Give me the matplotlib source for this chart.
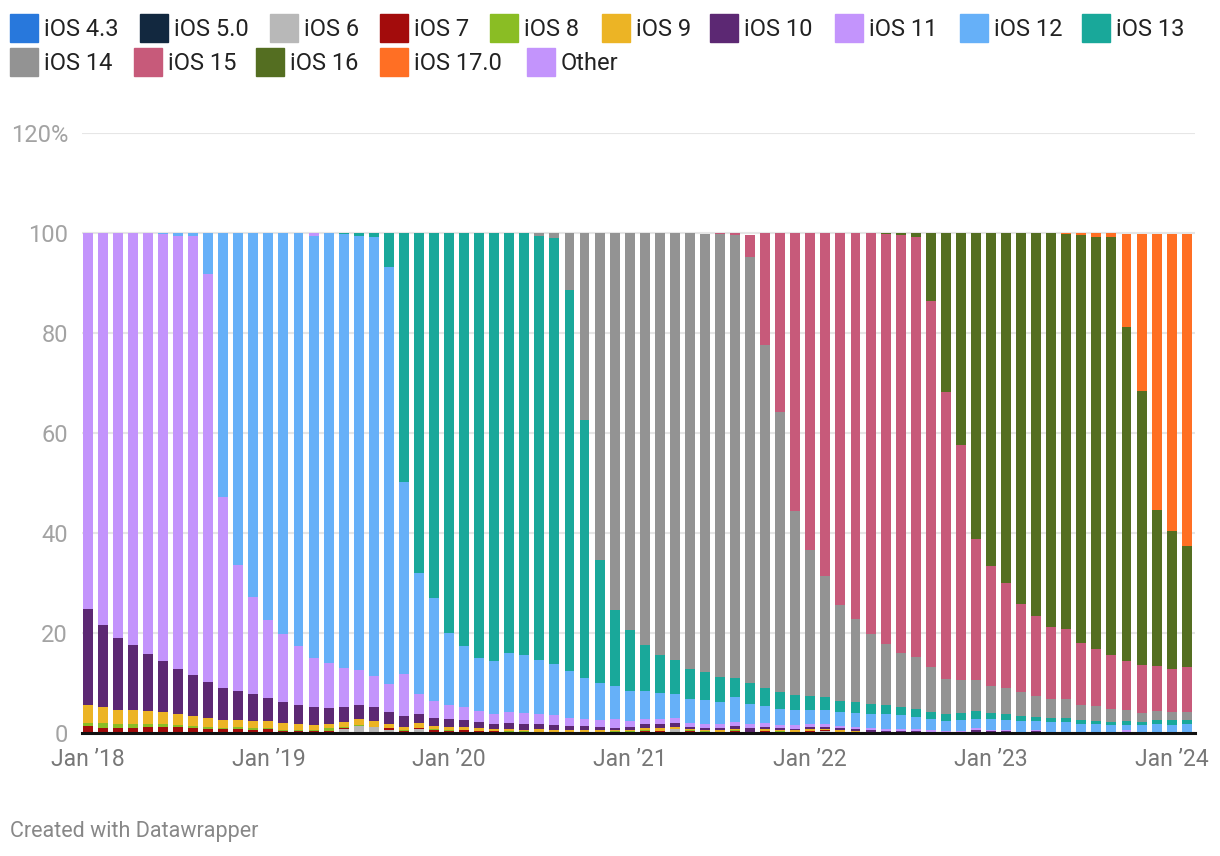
import numpy as np
import matplotlib.pyplot as plt
from matplotlib.patches import Rectangle

plt.rcParams['font.family'] = ['Roboto', 'DejaVu Sans']

# monthly, Jan 2018 .. Feb 2024
months = 74
tick_pos = [0, 12, 24, 36, 48, 60, 72]
tick_labels = ["Jan ’18", "Jan ’19", "Jan ’20", "Jan ’21", "Jan ’22", "Jan ’23", "Jan ’24"]

ios43 = [0] * 74
ios50 = [0] * 74
ios6 = ([0] * 14 + [0.1, 0, 0.2, 0.8, 1.4, 1.2,
        0.6, 0.2, 0.8, 0.2, 0.2, 0.3, 0.2, 0.1, 0.1, 0.1, 0.1, 0.1, 0.1, 0.1, 0.1, 0.2, 0.2, 0.2, 0.3, 0.8,
        0.3, 0.2, 0.1, 0.2, 0.1, 0.1, 0.1, 0.1, 0.3, 0.5, 0.1, 0.1] + [0] * 22)
ios7 = ([1.4, 1.1, 1.1, 1.1, 1.2, 1.2, 1.2, 1.0, 0.9, 0.9, 0.8, 0.6, 0.8, 0.5, 0.4, 0.5, 0.3, 0.2, 0.1, 0.1,
         0.4, 0.2, 0.2, 0.4, 0.2, 0.3, 0.2, 0.3, 0.2, 0.1, 0.1, 0.1, 0.1, 0.1, 0.1, 0.1, 0.1, 0.3, 0.1, 0.1,
         0.2, 0.1, 0.1, 0.3, 0.1, 0.4, 0.2, 0.1, 0.1, 0.1, 0.1] + [0] * 23)
ios8 = ([0.6, 0.9, 0.7, 0.7, 0.6, 0.6, 0.5, 0.4, 0.3, 0.1, 0.4, 0.4, 0.2, 0.1, 0.1, 0.1, 0.5, 0.2, 0.1, 0,
         0.1, 0.2, 0.1, 0.2, 0.3, 0.1, 0.1, 0.1, 0.1, 0.2, 0.1, 0.1, 0.1, 0.1, 0.1, 0.2, 0.2, 0.1, 0.1, 0,
         0.1, 0.1, 0.1, 0.1, 0, 0, 0.1, 0.1, 0.1, 0.1, 0.1, 0.1] + [0] * 22)
ios9 = ([3.6, 3.2, 2.8, 2.8, 2.6, 2.4, 2.1, 2.0, 1.8, 1.6, 1.4, 1.4, 1.4, 1.4, 1.2, 1.0, 0.8, 1.0, 1.2, 1.1,
         0.7, 0.6, 0.9, 0.6, 0.5, 0.5, 0.5, 0.3, 0.4, 0.2, 0.5, 0.3, 0.3, 0.3, 0.3, 0.1, 0.2, 0.4, 0.5, 0.3,
         0.2, 0.2, 0.3, 0.2, 0.1, 0.3, 0.2, 0.3, 0.3, 0.2, 0.4, 0.2, 0.1, 0.1, 0.1, 0.1, 0, 0, 0, 0,
         0, 0, 0, 0.3, 0, 0, 0, 0, 0, 0, 0, 0, 0, 0])
ios10 = [19.2, 16.4, 14.4, 13.0, 11.4, 10.2, 9.0, 8.2, 7.2, 6.4, 5.8, 5.4, 4.6, 4.2, 3.8, 3.6, 3.2, 3.0, 2.8, 2.8,
         2.4, 2.2, 1.8, 1.6, 1.6, 1.4, 1.2, 1.0, 1.2, 1.2, 1.0, 1.0, 0.8, 0.8, 0.6, 0.4, 0.5, 0.8, 0.8, 0.8,
         0.4, 0.4, 0.4, 0.6, 0.7, 0.4, 0.4, 0.2, 0.4, 0.3, 0.3, 0.4, 0.5, 0.3, 0.3, 0.3, 0.3, 0.2, 0.2, 0.6,
         0.5, 0.5, 0.1, 0.2, 0.1, 0.1, 0.1, 0.1, 0.1, 0.1, 0.1, 0.1, 0.1, 0.1]
ios11 = [75.2, 78.4, 81.0, 82.4, 84.2, 85.4, 86.7, 87.9, 81.6, 38.2, 25.2, 19.4, 15.6, 13.6, 11.8, 9.8, 9.0, 7.8, 7.0, 6.2,
         5.6, 8.4, 4.0, 3.4, 2.8, 2.6, 2.2, 2.0, 2.2, 2.2, 2.0, 2.0, 1.6, 1.4, 1.4, 1.8, 1.2, 1.0, 1.0, 1.0,
         0.8, 0.8, 0.8, 0.8, 0.8, 0.8, 0.6, 0.8, 0.6, 0.6, 0.4, 0.4, 0.4, 0.4, 0.4, 0.4, 0.3, 0.2, 0.2, 0.4,
         0.1, 0.1, 0.2, 0.1, 0.2, 0.2, 0.2, 0.2, 0.2, 0.5, 0.2, 0.2, 0.2, 0.2]
ios12 = [0, 0, 0, 0, 0, 0.2, 0.5, 0.5, 8.2, 52.8, 66.4, 72.8, 77.4, 80.2, 82.6, 84.5, 86.0, 86.8, 86.8, 87.8,
         83.5, 38.4, 24.2, 20.6, 14.4, 12.2, 10.6, 10.6, 11.8, 11.6, 10.8, 10.2, 9.4, 8.2, 7.4, 6.6, 6.0, 5.6, 5.2, 4.8,
         4.8, 4.8, 4.4, 5.1, 4.0, 3.4, 3.2, 3.0, 2.8, 2.8, 2.8, 2.8, 2.8, 3.0, 2.8, 2.4, 2.2, 2.0, 2.2, 1.8,
         2.2, 2.0, 2.1, 1.8, 1.9, 1.9, 1.5, 1.5, 1.3, 1.0, 1.3, 1.5, 1.3, 1.5]
ios13 = ([0] * 17 + [0.2, 0.6, 0.8,
         6.7, 49.8, 68.0, 73.0, 80.0, 82.6, 85.0, 85.6, 84.0, 84.4, 84.8, 85.2, 76.2, 51.6, 24.6, 15.2, 12.2, 9.2, 7.6, 6.8,
         6.0, 5.6, 5.0, 3.7, 4.2, 3.6, 3.4, 3.0, 2.8, 2.6, 2.2, 2.2, 2.0, 1.8, 1.6, 1.6, 1.4, 1.4, 1.4, 1.6,
         1.2, 1.2, 1.0, 0.8, 0.8, 0.8, 0.8, 0.6, 0.6, 0.8, 0.6, 0.8, 1.0, 0.8])
ios14 = ([0] * 30 + [0.6, 1.0, 11.4, 37.4, 65.4, 75.4, 79.4, 82.4, 84.4, 85.4,
         87.2, 87.6, 88.6, 88.6, 85.2, 68.6, 56.0, 36.8, 29.2, 24.2, 19.2, 16.6, 14.0, 12.2, 10.8, 10.4, 9.0, 7.0, 6.6, 6.2,
         5.4, 5.2, 4.8, 4.2, 3.8, 3.8, 3.0, 3.0, 2.6, 2.2, 1.8, 1.8, 1.6, 1.6])
ios15 = ([0] * 42 + [0.2, 0.4, 4.4, 22.4, 35.8, 55.6, 63.4, 68.6, 74.4, 77.2, 80.2, 82.0, 83.6, 84.0, 73.2, 57.4, 47.0, 28.2,
         24.0, 21.0, 17.6, 16.0, 14.4, 14.0, 12.4, 11.4, 10.8, 9.8, 9.6, 9.0, 8.6, 9.0])
ios16 = ([0] * 53 + [0.2, 0.4, 0.8, 13.6, 31.8, 42.4, 61.2,
         66.6, 70.0, 74.2, 76.6, 78.8, 79.0, 81.6, 82.4, 83.6, 66.8, 54.8, 31.2, 27.6, 24.2])
ios17 = [0] * 65 + [0.2, 0.4, 0.8, 0.8, 18.6, 31.4, 55.2, 59.4, 62.4]
other = [0] * 15 + [0.5] + [0] * 58

series = [
    ("iOS 4.3", ios43, "#2878dc"),
    ("iOS 5.0", ios50, "#12283f"),
    ("iOS 6", ios6, "#b8b8b8"),
    ("iOS 7", ios7, "#a30c0c"),
    ("iOS 8", ios8, "#8abd24"),
    ("iOS 9", ios9, "#ecb425"),
    ("iOS 10", ios10, "#5c2873"),
    ("iOS 11", ios11, "#c394fc"),
    ("iOS 12", ios12, "#66b0f8"),
    ("iOS 13", ios13, "#19a89a"),
    ("iOS 14", ios14, "#939393"),
    ("iOS 15", ios15, "#c75a7a"),
    ("iOS 16", ios16, "#546e21"),
    ("iOS 17.0", ios17, "#ff6f24"),
    ("Other", other, "#c394fc"),
]

W, H = 1220, 856
fig = plt.figure(figsize=(W / 100, H / 100), dpi=100)
ax = fig.add_axes([82 / W, 1 - 733 / H, (1195 - 82) / W, (733 - 133) / H])

x = np.arange(months)
bottom = np.zeros(months)
for name, vals, color in series:
    vals = np.array(vals, dtype=float)
    ax.bar(x, vals, bottom=bottom, width=0.66, color=color, linewidth=0, zorder=2)
    bottom += vals

ax.set_ylim(0, 120)
ax.set_xlim(-0.38, 73.55)
ax.set_yticks([0, 20, 40, 60, 80, 100, 120])
ax.set_yticklabels(["0", "20", "40", "60", "80", "100", "120%"])
ax.set_xticks(tick_pos)
ax.set_xticklabels(tick_labels)
ax.grid(axis="y", color="#e6e6e6", linewidth=1.5, zorder=0)
for s in ["top", "right", "left"]:
    ax.spines[s].set_visible(False)
ax.spines["bottom"].set_color("#111111")
ax.spines["bottom"].set_linewidth(2.2)
ax.spines["bottom"].set_zorder(3)
ax.tick_params(axis="y", length=0, pad=10, labelsize=17, labelcolor="#a3a3a3")
ax.tick_params(axis="x", length=0, pad=11, labelsize=16.5, labelcolor="#777777")

# legend, two rows
leg_x = [10, 140, 270, 380, 490, 602, 710, 835, 960, 1082, 10, 134, 256, 380, 527]
leg_y = [28, 28, 28, 28, 28, 28, 28, 28, 28, 28, 62, 62, 62, 62, 62]
for (name, vals, color), lx, ly in zip(series, leg_x, leg_y):
    fig.patches.append(Rectangle((lx / W, 1 - (ly + 14) / H), 28 / W, 28 / H,
                                 transform=fig.transFigure, color=color, figure=fig))
    fig.text((lx + 34) / W, 1 - (ly + 1) / H, name, fontsize=17, color="#222222", va="center", ha="left")

fig.text(10 / W, 1 - 831 / H, "Created with Datawrapper", fontsize=15.5, color="#888888", va="center", ha="left")

fig.savefig("out.png", dpi=100)
